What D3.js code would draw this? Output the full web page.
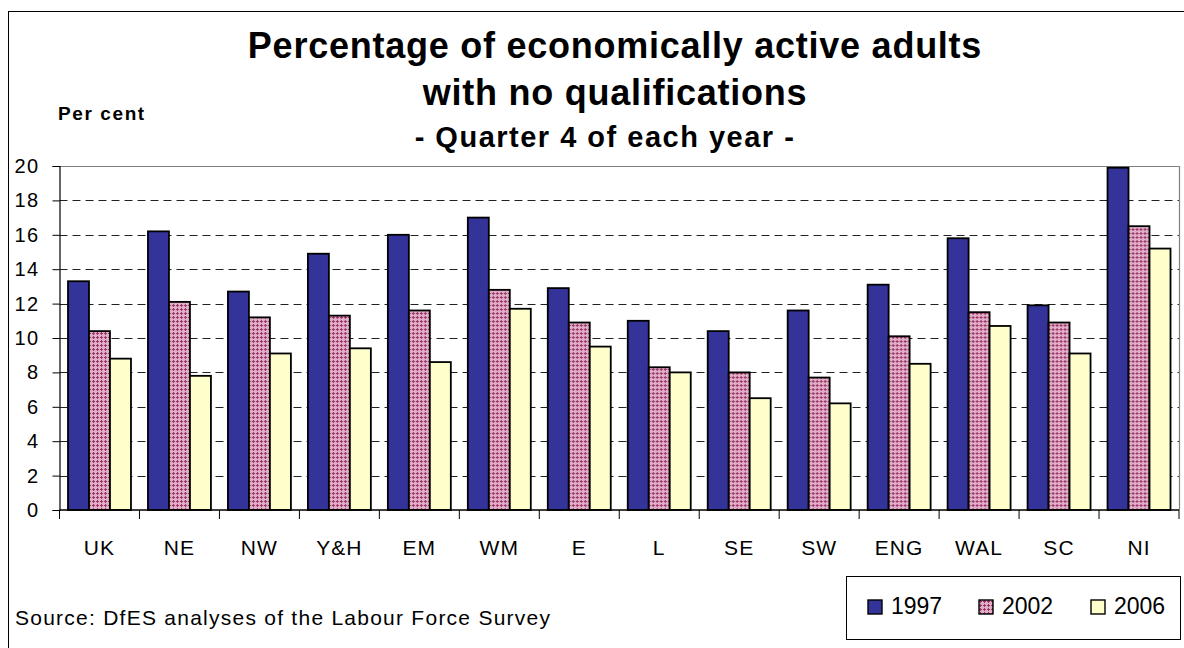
<!DOCTYPE html>
<html>
<head>
<meta charset="utf-8">
<script src="https://cdn.jsdelivr.net/npm/d3@7"></script>
<style>
  html, body { margin: 0; padding: 0; background: #fff; }
  svg { display: block; font-family: "Liberation Sans", Arial, sans-serif; }
</style>
</head>
<body>
<svg id="chart" width="1184" height="648"></svg>
<script>
// Regions along the x axis
const categories = ["UK", "NE", "NW", "Y&H", "EM", "WM", "E", "L", "SE", "SW", "ENG", "WAL", "SC", "NI"];

// Per cent of economically active adults with no qualifications, Q4 of each year
const values1997 = [13.3, 16.2, 12.7, 14.9, 16.0, 17.0, 12.9, 11.0, 10.4, 11.6, 13.1, 15.8, 11.9, 19.9];
const values2002 = [10.4, 12.1, 11.2, 11.3, 11.6, 12.8, 10.9, 8.3, 8.0, 7.7, 10.1, 11.5, 10.9, 16.5];
const values2006 = [8.8, 7.8, 9.1, 9.4, 8.6, 11.7, 9.5, 8.0, 6.5, 6.2, 8.5, 10.7, 9.1, 15.2];

const seriesNames = ["1997", "2002", "2006"];
const yTicks = [0, 2, 4, 6, 8, 10, 12, 14, 16, 18, 20];

const seriesValues = [values1997, values2002, values2006];
const data = categories.map((c, i) => ({
  cat: c,
  vals: seriesNames.map((s, j) => ({ key: s, value: seriesValues[j][i] }))
}));

const svg = d3.select("#chart");
const fills = { "1997": "#333399", "2002": "url(#hatch2002)", "2006": "#ffffcc" };

// Pink check pattern for the 2002 series
const defs = svg.append("defs");
const pat = defs.append("pattern")
  .attr("id", "hatch2002")
  .attr("patternUnits", "userSpaceOnUse")
  .attr("width", 4).attr("height", 4);
pat.append("rect").attr("width", 4).attr("height", 4).attr("fill", "#dfaec7");
pat.append("rect").attr("x", 0).attr("y", 1).attr("width", 3).attr("height", 1).attr("fill", "#9e3468");
pat.append("rect").attr("x", 1).attr("y", 0).attr("width", 1).attr("height", 3).attr("fill", "#9e3468");

// Outer frame
svg.append("rect")
  .attr("x", 8.5).attr("y", 11.5)
  .attr("width", 1190).attr("height", 650)
  .attr("fill", "#fff").attr("stroke", "#000").attr("stroke-width", 1);

const plotLeft = 59.5, plotRight = 1179, plotTop = 166, plotBottom = 510;

const x0 = d3.scaleBand()
  .domain(categories)
  .range([plotLeft, plotRight])
  .paddingInner(0.2125)
  .paddingOuter(0.10625);

const x1 = d3.scaleBand()
  .domain(seriesNames)
  .range([0, x0.bandwidth()]);

const y = d3.scaleLinear().domain([0, 20]).range([plotBottom, plotTop]);

// Title
const title = svg.append("g").attr("font-weight", "bold").attr("fill", "#000").attr("text-anchor", "middle");
title.append("text").attr("x", 615).attr("y", 58)
  .attr("font-size", 36).style("letter-spacing", "0.75px")
  .text("Percentage of economically active adults");
title.append("text").attr("x", 615).attr("y", 105)
  .attr("font-size", 36).style("letter-spacing", "0.75px")
  .text("with no qualifications");
title.append("text").attr("x", 605).attr("y", 147)
  .attr("font-size", 29).style("letter-spacing", "1.5px")
  .text("- Quarter 4 of each year -");

// Axis unit label
svg.append("text")
  .attr("x", 58).attr("y", 120)
  .attr("font-size", 19).attr("font-weight", "bold")
  .style("letter-spacing", "1.6px")
  .text("Per cent");

// Gridlines
svg.append("g")
  .selectAll("line")
  .data(yTicks.filter(t => t > 0 && t < 20))
  .join("line")
  .attr("x1", plotLeft).attr("x2", plotRight)
  .attr("y1", d => Math.round(y(d)) + 0.5).attr("y2", d => Math.round(y(d)) + 0.5)
  .attr("stroke", "#222").attr("stroke-width", 1)
  .attr("stroke-dasharray", "8,5");

// Plot area top and right border
svg.append("path")
  .attr("d", `M${plotLeft},${plotTop + 0.5}H${plotRight + 0.5}V${plotBottom}`)
  .attr("fill", "none").attr("stroke", "#808080").attr("stroke-width", 1.2);

// Bars
const groups = svg.append("g")
  .selectAll("g")
  .data(data)
  .join("g")
  .attr("transform", d => `translate(${x0(d.cat)},0)`);

groups.selectAll("rect")
  .data(d => d.vals)
  .join("rect")
  .attr("x", d => x1(d.key))
  .attr("y", d => y(d.value))
  .attr("width", x1.bandwidth())
  .attr("height", d => y(0) - y(d.value))
  .attr("fill", d => fills[d.key])
  .attr("stroke", "#000")
  .attr("stroke-width", 1.8);

// Y axis
const yAxis = d3.axisLeft(y)
  .tickValues(yTicks)
  .tickSize(7)
  .tickPadding(13)
  .tickFormat(d3.format("d"));
const yg = svg.append("g")
  .attr("transform", `translate(${plotLeft},0)`)
  .call(yAxis);
yg.select(".domain").attr("stroke", "#000").attr("stroke-width", 1.2);
yg.selectAll(".tick line").attr("stroke", "#000");
yg.selectAll(".tick text")
  .attr("font-size", 20)
  .attr("fill", "#000")
  .attr("font-family", "Liberation Sans, Arial, sans-serif")
  .style("letter-spacing", "1.4px");

// X axis: ticks at category boundaries, labels centred under groups
const xg = svg.append("g").attr("transform", `translate(0,${plotBottom})`);
xg.append("line")
  .attr("x1", plotLeft).attr("x2", plotRight)
  .attr("stroke", "#000").attr("stroke-width", 1.4);
const boundaries = categories.map(c => x0(c) - x0.step() * x0.paddingInner() / 2)
  .concat([plotRight]);
boundaries[0] = plotLeft;
xg.selectAll(".xtick")
  .data(boundaries)
  .join("line")
  .attr("class", "xtick")
  .attr("x1", d => d).attr("x2", d => d)
  .attr("y1", 0).attr("y2", 9)
  .attr("stroke", "#000");
xg.selectAll(".xlabel")
  .data(categories)
  .join("text")
  .attr("class", "xlabel")
  .attr("x", d => x0(d) + x0.bandwidth() / 2)
  .attr("y", 45)
  .attr("text-anchor", "middle")
  .attr("font-size", 21)
  .style("letter-spacing", "1.1px")
  .text(d => d);

// Source note
svg.append("text")
  .attr("x", 15).attr("y", 625)
  .attr("font-size", 21)
  .style("letter-spacing", "1.25px")
  .text("Source: DfES analyses of the Labour Force Survey");

// Legend
const legend = svg.append("g");
legend.append("rect")
  .attr("x", 846.5).attr("y", 576.5)
  .attr("width", 334).attr("height", 63)
  .attr("fill", "#fff").attr("stroke", "#000");
const legendX = [868, 979, 1091];
const items = legend.selectAll(".item")
  .data(seriesNames)
  .join("g")
  .attr("class", "item")
  .attr("transform", (d, i) => `translate(${legendX[i]},600)`);
items.append("rect")
  .attr("width", 14).attr("height", 14)
  .attr("fill", d => fills[d])
  .attr("stroke", "#000").attr("stroke-width", 1.4);
items.append("text")
  .attr("x", 23).attr("y", 14)
  .attr("font-size", 23)
  .text(d => d);
</script>
</body>
</html>
